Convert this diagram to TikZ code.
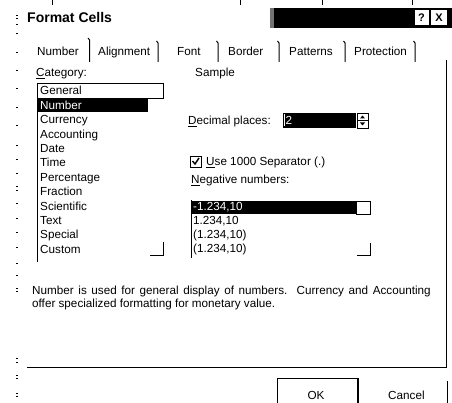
\documentclass[tikz,border=0pt]{standalone}
\usepackage{fontspec}
\setmainfont{Liberation Sans}
\begin{document}
\begin{tikzpicture}[x=1pt,y=-1pt,
  lbl/.style={anchor=base west, inner sep=0pt, font=\fontsize{11.7}{14}\selectfont},
  wlbl/.style={lbl, text=white},
  ttl/.style={anchor=base west, inner sep=0pt, font=\bfseries\fontsize{14}{16}\selectfont},
  ln/.style={line width=1pt, draw=black},
  sep/.style={line width=1pt, draw=black},
  btnbox/.style={fill=white, draw=white, inner sep=0pt, minimum width=13pt, minimum height=14pt, font=\bfseries\fontsize{11}{12}\selectfont},
  frag/.style={fill=black}
]
\useasboundingbox[fill=white] (0,0) rectangle (452,403);
% top fragments
\foreach \x in {52,240,322,412} \draw[ln] (\x,0) -- (\x,5);
% left fragments
\foreach \y in {15,18,24,33,52,70,88,107,125,145,159,173,186,190,203,218,232,247,263,275,288,291,358,362,375,378,393,396}
  \fill[frag] (15.5,\y) rectangle (17.5,\y+1.2);
% title bar
\fill[black] (274,8) rectangle (452,28);
\fill[black!55] (269.5,8) rectangle (274,28);
\node[btnbox] (help) at (421.5,17.5) {?};
\node[btnbox, minimum width=15pt] (close) at (439,17.5) {X};
\node[ttl] (title) at (27,23) {Format Cells};
% tabs
\node[lbl] (tnum) at (37,56) {Number};
\node[lbl] (talign) at (98,56) {Alignment};
\node[lbl] (tfont) at (177,56) {Font};
\node[lbl] (tborder) at (228,56) {Border};
\node[lbl] (tpat) at (289,56) {Patterns};
\node[lbl] (tprot) at (354,56) {Protection};
\draw[sep] (88,38) -- (89.5,40) -- (89.5,62);
\foreach \x in {158,218,279,345,415}
  \draw[sep] (\x-1.5,41) -- (\x,43) -- (\x,62);
% panel borders
\coordinate (ptr) at (446,60);
\coordinate (pbr) at (446,367);
\coordinate (pbl) at (27,367);
\draw[ln] (ptr) -- (pbr) -- (pbl);
% category
\node[lbl] (cat) at (36,77) {\underline{C}ategory:};
\node[lbl] (sample) at (195,77) {Sample};
\draw[ln] (37,83) -- (37,262);
\draw[line width=0.8pt] (37,83.5) rectangle (163,98);
\fill[black] (38,99.5) rectangle (148,112.5);
\node[lbl] (general) at (40,95) {General};
\node[wlbl] (number) at (40,109.4) {Number};
\foreach \t [count=\i] in {Currency,Accounting,Date,Time,Percentage,Fraction,Scientific,Text,Special,Custom}
  \node[lbl] (c\i) at (40,109.4+14.4*\i) {\t};
\draw[ln] (150,255) -- (163,255) -- (163,242);
% decimal places
\node[lbl] (dec) at (188,125) {\underline{D}ecimal places:};
\fill[black] (283,113) rectangle (356,128);
\draw[white, line width=0.6pt] (284,114.5) -- (284,126.5);
\node[wlbl] (two) at (285.5,125) {2};
\draw[line width=0.8pt, fill=white] (357,113) rectangle (368,128);
\draw[line width=0.6pt] (357,120.5) -- (368,120.5);
\fill (360,118.5) -- (365,118.5) -- (362.5,115.5) -- cycle;
\fill (360,122.5) -- (365,122.5) -- (362.5,125.5) -- cycle;
% checkbox
\draw[line width=0.8pt] (190,156) rectangle (201,167);
\draw[line width=1.4pt] (192.5,161) -- (195,164) -- (199,158);
\node[lbl] (sep1000) at (206,166) {\underline{U}se 1000 Separator (.)};
\node[lbl] (neg) at (191,184) {\underline{N}egative numbers:};
% negative list
\draw[ln] (191,200) -- (191,258);
\fill[black] (192,201.5) rectangle (356,214.5);
\draw[line width=0.8pt] (356,201.5) rectangle (370,214.5);
\node[wlbl] (n1) at (193,211) {-1.234,10};
\node[lbl] (n2) at (193,225) {1.234,10};
\node[lbl] (n3) at (193,239) {(1.234,10)};
\node[lbl] (n4) at (193,253) {(1.234,10)};
\draw[ln] (357,255) -- (370,255) -- (370,243);
% description
\node[lbl] (desc1) at (32,294) {\spaceskip=4.6pt plus 0pt minus 0pt Number is used for general display of numbers.\ \ Currency and Accounting};
\node[lbl] (desc2) at (32,307) {offer specialized formatting for monetary value.};
% buttons
\draw[line width=1pt] (277,403) -- (277,378) -- (358,378);
\draw[line width=2pt] (358,378) -- (358,403);
\node[lbl, anchor=base] (ok) at (316,399) {OK};
\node[lbl] (cancel) at (388,399) {Cancel};
\draw[ln] (447,381) -- (447,403);
\end{tikzpicture}
\end{document}
